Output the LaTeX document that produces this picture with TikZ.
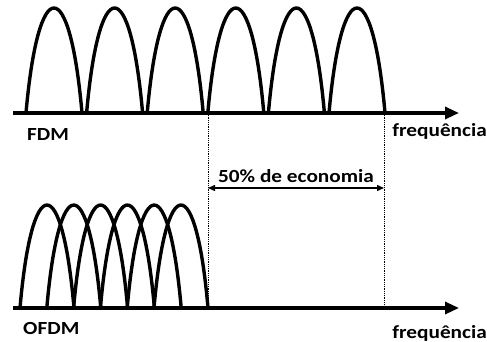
\documentclass[tikz,border=0pt]{standalone}
\usepackage{fontspec}
\setmainfont{Carlito}[FakeStretch=1.15]
\usetikzlibrary{arrows.meta,positioning}

\begin{document}
\begin{tikzpicture}[x=1pt,y=-1pt,
  lobe/.style={line width=3.4pt},
  axis/.style={line width=3.2pt,-{Triangle[length=14pt,width=12pt]}},
  guide/.style={densely dotted,line width=0.8pt},
  span/.style={line width=1.4pt,{Triangle[length=7pt,width=6pt]}-{Triangle[length=7pt,width=6pt]}},
  lbl/.style={font=\bfseries\fontsize{18.5}{21}\selectfont,inner sep=0pt}]
  \useasboundingbox (0,0) rectangle (487,342);
  % FDM
  \coordinate (fdmA) at (13,113);
  \coordinate (fdmB) at (459,113);
  \foreach \s in {26,86.6,...,330}
    \draw[lobe] (\s,113) .. controls (\s+12.3,-27) and (\s+43.7,-27) .. (\s+56,113);
  \draw[axis] (fdmA) -- (fdmB);
  \node[lbl,anchor=west] (fdm) at (27,135) {FDM};
  \node[lbl,anchor=east] (freqA) at (487,131) {frequência};
  % OFDM
  \coordinate (ofdmA) at (13,308);
  \coordinate (ofdmB) at (459,308);
  \foreach \s in {20,46.8,...,155}
    \draw[lobe] (\s,308) .. controls (\s+11.9,170.7) and (\s+42.1,170.7) .. (\s+54,308);
  \draw[axis] (ofdmA) -- (ofdmB);
  \node[lbl,anchor=west] (ofdm) at (23,328) {OFDM};
  \node[lbl,anchor=east] (freqB) at (487,333) {frequência};
  % economia
  \coordinate (gA1) at (208,113);
  \coordinate (gA2) at (208,308);
  \coordinate (gB1) at (384,113);
  \coordinate (gB2) at (384,308);
  \draw[guide] (gA1) -- (gA2);
  \draw[guide] (gB1) -- (gB2);
  \coordinate (spA) at (208,188);
  \coordinate (spB) at (384,188);
  \draw[span] (spA) -- (spB);
  \node[lbl,above=5pt of spA,anchor=south,xshift=88pt] (eco) {50\% de economia};
\end{tikzpicture}
\end{document}
